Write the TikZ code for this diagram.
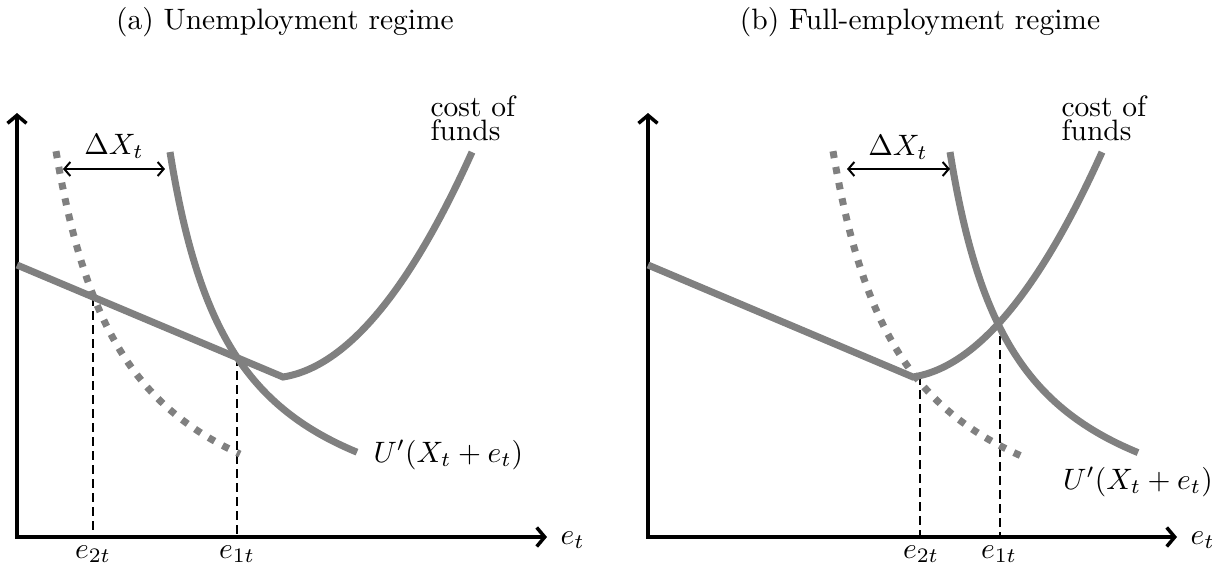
\documentclass[tikz,border=0pt]{standalone}
\usetikzlibrary{arrows.meta}
\definecolor{curvegray}{RGB}{128,128,128}
\begin{document}
\begin{tikzpicture}[x=1pt,y=-1pt,
  every node/.style={font=\fontsize{10}{12}\selectfont, inner sep=0pt, scale=2.95},
  curve/.style={draw=curvegray, line width=7pt},
  dotcurve/.style={curve, dash pattern=on 7pt off 9pt},
  axis/.style={line width=3.5pt, {Straight Barb[length=8pt,width=19pt]}-{Straight Barb[length=8pt,width=19pt]}},
  guide/.style={line width=2pt, dash pattern=on 9pt off 5pt},
  shiftarrow/.style={line width=2pt, {Straight Barb[length=6pt,width=14pt]}-{Straight Barb[length=6pt,width=14pt]}},
  costlabel/.style={align=left, anchor=north west, font=\fontsize{10}{6.8}\selectfont},
]
\useasboundingbox (0,0) rectangle (1225,574);

% ---------------- Panel (a) ----------------
\node (capA) at (285,22) {(a) Unemployment regime};
\coordinate (oA) at (17,537);
\coordinate (yA) at (17,113);
\coordinate (xA) at (547,537);
\node[anchor=base west] (etA) at (560,544) {$e_t$};

\coordinate (g2Atop) at (93,297);
\coordinate (g2Abot) at (93,537);
\coordinate (g1Atop) at (237,357);
\coordinate (g1Abot) at (237,537);
\draw[guide] (g2Atop) -- (g2Abot);
\draw[guide] (g1Atop) -- (g1Abot);

\draw[axis] (yA) -- (oA) -- (xA);

\coordinate (lineAstart) at (17,265);
\coordinate (kinkA) at (283,377);
\draw[curve] (lineAstart) -- (kinkA) -- plot[domain=0:189, samples=60, smooth] ({283+\x},{377-0.158*\x-0.546*(\x/10)*(\x/10)});
\draw[curve] plot[domain=170:357, samples=60, smooth] (\x,{556.5-262.9/((\x-105)/100)});
\draw[dotcurve] plot[domain=56:240, samples=60, smooth] (\x,{570.9-298/((\x+15)/100)});

\coordinate (dxAl) at (63,169);
\coordinate (dxAr) at (165,169);
\draw[shiftarrow] (dxAl) -- (dxAr);
\node[anchor=base] (dxA) at (114,154) {$\Delta X_t$};

\node[anchor=base] (e2A) at (93,558) {$e_{2t}$};
\node[anchor=base] (e1A) at (237,558) {$e_{1t}$};
\node[anchor=base west] (uA) at (373,462) {$U'(X_t+e_t)$};
\node[costlabel] (cfA) at (430,95) {cost of\\funds};

% ---------------- Panel (b) ----------------
\node (capB) at (920,22) {(b) Full-employment regime};
\coordinate (oB) at (648,537);
\coordinate (yB) at (648,113);
\coordinate (xB) at (1177,537);
\node[anchor=base west] (etB) at (1190,544) {$e_t$};

\coordinate (g2Btop) at (920,376);
\coordinate (g2Bbot) at (920,537);
\coordinate (g1Btop) at (1000,322);
\coordinate (g1Bbot) at (1000,537);
\draw[guide] (g2Btop) -- (g2Bbot);
\draw[guide] (g1Btop) -- (g1Bbot);

\draw[axis] (yB) -- (oB) -- (xB);

\coordinate (lineBstart) at (648,265);
\coordinate (kinkB) at (913,377);
\draw[curve] (lineBstart) -- (kinkB) -- plot[domain=0:189, samples=60, smooth] ({913+\x},{377-0.158*\x-0.546*(\x/10)*(\x/10)});
\draw[curve] plot[domain=950:1138, samples=60, smooth] (\x,{556.5-262.9/((\x-885)/100)});
\draw[dotcurve] plot[domain=833:1027, samples=60, smooth] (\x,{570.9-298/((\x-762)/100)});

\coordinate (dxBl) at (847,169);
\coordinate (dxBr) at (950,169);
\draw[shiftarrow] (dxBl) -- (dxBr);
\node[anchor=base] (dxB) at (898,155) {$\Delta X_t$};

\node[anchor=base] (e2B) at (921,558) {$e_{2t}$};
\node[anchor=base] (e1B) at (999,558) {$e_{1t}$};
\node[anchor=base] (uB) at (1138,489) {$U'(X_t+e_t)$};
\node[costlabel] (cfB) at (1061,95) {cost of\\funds};
\end{tikzpicture}
\end{document}
